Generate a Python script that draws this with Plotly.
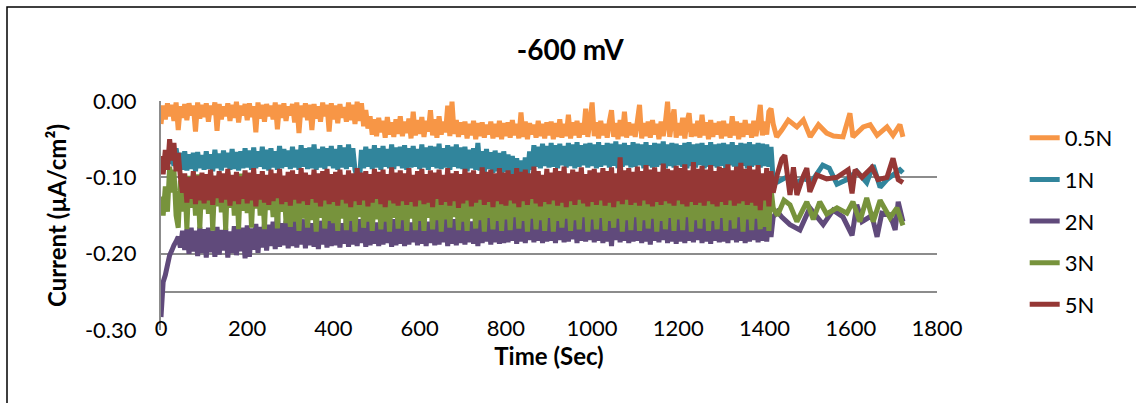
import plotly.graph_objects as go

# Potentiostatic hold at -600 mV: current density vs time for five NaCl concentrations.
# Values are in nA/cm² and are converted to µA/cm² when plotted.
# The first 1420 s were logged every SAMPLE_INTERVAL_S seconds; later points carry their own times.
SAMPLE_INTERVAL_S = 5

i_05N = [
    -30, -6, -24, -3, -20, -5, -26, -2, -38, -7, -22, -4, -25, -3, -19, -6, -40, -2, -23, -5,
    -21, -3, -27, -6, -18, -2, -39, -4, -24, -7, -20, -3, -26, -5, -22, -1, -28, -6, -19, -4,
    -25, -3, -21, -7, -41, -2, -23, -5, -27, -4, -20, -6, -24, -2, -37, -5, -22, -3, -26, -7,
    -19, -4, -28, -2, -42, -6, -21, -3, -25, -5, -38, -4, -23, -7, -27, -2, -20, -5, -40, -3,
    -24, -6, -29, -4, -22, -8, -27, -2, -25, -5, -30, -1, -26, -3, -33, -12, -36, -20, -44, -24,
    -46, -22, -41, -26, -48, -21, -44, -28, -47, -24, -43, -20, -46, -27, -42, -23, -49, -14, -45, -25,
    -43, -21, -47, -26, -40, -12, -45, -24, -48, -20, -44, -27, -41, -6, -46, -1, -43, -25, -47, -28,
    -44, -27, -49, -30, -45, -26, -50, -29, -46, -28, -48, -31, -44, -27, -49, -30, -47, -26, -50, -29,
    -46, -28, -48, -25, -45, -30, -49, -15, -47, -27, -50, -29, -44, -31, -48, -26, -46, -30, -49, -28,
    -45, -27, -50, -29, -47, -24, -48, -30, -46, -18, -49, -28, -45, -26, -48, -29, -44, -10, -47, -27,
    -2, -46, -28, -49, -26, -45, -30, -48, -27, -12, -47, -29, -50, -25, -46, -14, -48, -28, -45, -30,
    -47, -26, -5, -49, -29, -46, -27, -48, -25, -44, -30, -50, -27, -46, -28, -1, -47, -26, -11, -48,
    -29, -45, -22, -49, -27, -16, -47, -30, -46, -26, -48, -18, -45, -28, -50, -25, -47, -29, -44, -27,
    -49, -26, -46, -30, -48, -20, -45, -27, -50, -29, -47, -25, -44, -30, -48, -26, -46, -28, -5, -45,
    -27, -44, -14, -10, -30,
]
t_05N_late = [1428, 1440, 1455, 1475, 1490, 1506, 1525, 1544, 1560, 1582, 1598, 1605,
              1629, 1645, 1661, 1684, 1698, 1714, 1721]
i_05N_late = [-47, -38, -25, -34, -25, -47, -31, -42, -46, -47, -16, -47,
              -34, -31, -45, -34, -45, -31, -47]

i_1N = [
    -84, -74, -88, -70, -82, -66, -85, -62, -80, -68, -90, -66, -91, -70, -89, -68, -92, -67, -88, -71,
    -90, -66, -89, -70, -92, -64, -88, -69, -91, -65, -87, -68, -90, -63, -89, -67, -91, -66, -88, -62,
    -87, -65, -90, -61, -88, -66, -86, -60, -89, -64, -91, -62, -87, -66, -90, -59, -88, -63, -86, -65,
    -89, -60, -87, -64, -90, -58, -86, -62, -89, -61, -88, -57, -90, -63, -87, -60, -89, -62, -85, -59,
    -88, -63, -90, -58, -87, -61, -89, -57, -86, -62, -90, -100, -108, -64, -88, -60, -86, -63, -89, -58,
    -87, -62, -90, -59, -86, -63, -88, -57, -89, -61, -85, -60, -88, -58, -90, -62, -87, -59, -86, -63,
    -89, -57, -87, -61, -90, -59, -86, -60, -88, -56, -89, -62, -87, -58, -90, -60, -86, -57, -88, -61,
    -89, -60, -92, -64, -88, -62, -90, -55, -91, -66, -93, -63, -89, -67, -94, -65, -92, -68, -95, -66,
    -93, -70, -96, -72, -98, -75, -100, -78, -102, -74, -99, -66, -90, -58, -86, -60, -88, -56, -85, -59,
    -87, -55, -86, -58, -88, -56, -84, -59, -87, -55, -85, -57, -88, -54, -86, -58, -84, -56, -87, -55,
    -85, -57, -88, -54, -86, -58, -84, -55, -87, -56, -85, -53, -88, -57, -86, -55, -84, -58, -87, -54,
    -86, -56, -84, -57, -88, -54, -85, -58, -87, -55, -86, -56, -84, -53, -88, -57, -85, -55, -87, -56,
    -84, -58, -86, -55, -88, -54, -85, -57, -87, -56, -84, -55, -88, -58, -86, -54, -85, -57, -87, -56,
    -85, -55, -88, -57, -84, -54, -86, -58, -87, -55, -85, -56, -88, -54, -86, -57, -84, -55, -87, -56,
    -85, -57, -86, -60, -104,
]
t_1N_late = [1430, 1450, 1470, 1490, 1510, 1535, 1550, 1568, 1591, 1614, 1637, 1652,
             1668, 1684, 1700, 1714, 1721]
i_1N_late = [-106, -100, -108, -102, -105, -84, -88, -109, -103, -92, -107, -84,
             -113, -103, -96, -90, -94]

i_2N = [
    -283, -237, -228, -215, -202, -196, -189, -184, -178, -192, -170, -195, -168, -200, -166, -197, -170, -203, -165, -199,
    -168, -205, -166, -198, -170, -204, -165, -201, -169, -196, -167, -205, -171, -199, -164, -202, -168, -197, -166, -206,
    -163, -204, -167, -195, -161, -199, -165, -192, -160, -196, -162, -190, -158, -194, -147, -191, -160, -189, -157, -193,
    -159, -190, -156, -192, -161, -188, -155, -193, -158, -189, -160, -191, -154, -194, -157, -188, -159, -192, -155, -190,
    -158, -189, -156, -192, -160, -187, -154, -191, -157, -188, -159, -190, -155, -186, -158, -191, -153, -189, -157, -187,
    -159, -190, -154, -188, -157, -186, -160, -191, -155, -189, -158, -187, -153, -190, -156, -188, -159, -185, -154, -189,
    -157, -187, -155, -190, -158, -186, -153, -189, -156, -188, -159, -185, -154, -190, -157, -187, -155, -189, -152, -186,
    -156, -188, -154, -185, -158, -187, -152, -190, -155, -186, -157, -184, -153, -188, -156, -185, -151, -187, -154, -186,
    -152, -185, -155, -183, -150, -187, -153, -184, -151, -186, -154, -182, -149, -185, -152, -183, -150, -186, -153, -184,
    -150, -183, -152, -186, -149, -182, -153, -185, -148, -184, -151, -181, -150, -186, -147, -183, -152, -184, -149, -182,
    -151, -185, -148, -183, -150, -186, -147, -184, -152, -190, -149, -182, -151, -185, -148, -183, -150, -186, -147, -184,
    -149, -183, -151, -186, -148, -184, -150, -188, -147, -183, -152, -185, -149, -182, -146, -186, -150, -184, -148, -187,
    -150, -184, -147, -186, -149, -183, -151, -185, -146, -182, -150, -186, -148, -184, -145, -187, -149, -183, -151, -185,
    -147, -184, -149, -186, -146, -182, -150, -185, -148, -183, -145, -186, -149, -184, -147, -182, -150, -185, -146, -183,
    -148, -184, -150, -178, -152,
]
t_2N_late = [1430, 1440, 1459, 1482, 1505, 1536, 1559, 1582, 1603, 1614, 1626, 1649,
             1661, 1672, 1691, 1703, 1710, 1721]
i_2N_late = [-145, -152, -162, -169, -140, -162, -143, -152, -176, -136, -158, -150,
             -178, -147, -149, -169, -132, -158]

i_3N = [
    -125, -150, -112, -145, -86, -120, -90, -150, -166, -104, -145, -100, -168, -98, -140, -102, -150, -96, -167, -100,
    -142, -97, -148, -94, -170, -101, -138, -96, -146, -99, -169, -93, -140, -100, -150, -97, -168, -95, -144, -102,
    -147, -98, -166, -104, -141, -97, -150, -108, -168, -100, -143, -110, -152, -105, -167, -112, -145, -108, -160, -115,
    -165, -118, -158, -121, -170, -117, -154, -123, -166, -119, -156, -120, -171, -124, -153, -118, -167, -122, -157, -119,
    -160, -123, -170, -118, -154, -121, -169, -125, -157, -119, -171, -122, -152, -117, -166, -124, -158, -120, -170, -123,
    -155, -119, -168, -124, -158, -118, -171, -122, -153, -120, -167, -125, -156, -119, -170, -121, -154, -123, -169, -118,
    -157, -122, -170, -119, -153, -124, -168, -120, -156, -117, -171, -123, -155, -121, -166, -118, -152, -125, -169, -120,
    -158, -122, -170, -119, -154, -124, -167, -118, -156, -123, -171, -120, -153, -125, -168, -119, -157, -122, -170, -121,
    -155, -118, -169, -123, -152, -120, -167, -124, -157, -119, -171, -122, -154, -117, -168, -125, -156, -120, -170, -123,
    -153, -119, -171, -124, -157, -118, -166, -122, -154, -120, -170, -125, -156, -119, -168, -123, -152, -117, -171, -121,
    -155, -124, -168, -118, -153, -122, -170, -119, -157, -125, -166, -120, -154, -117, -171, -123, -156, -116, -169, -121,
    -152, -118, -170, -123, -156, -115, -167, -120, -154, -117, -171, -122, -157, -114, -168, -119, -153, -121, -170, -116,
    -155, -120, -169, -113, -152, -118, -171, -121, -156, -115, -167, -119, -154, -112, -170, -117, -157, -120, -168, -114,
    -153, -118, -170, -113, -156, -120, -167, -116, -152, -112, -171, -119, -155, -114, -169, -117, -154, -121, -168, -113,
    -165, -118, -170, -115, -140,
]
t_3N_late = [1430, 1445, 1459, 1475, 1498, 1513, 1528, 1544, 1568, 1591, 1605, 1621,
             1637, 1652, 1668, 1691, 1707, 1721]
i_3N_late = [-150, -130, -136, -158, -132, -155, -132, -148, -140, -147, -132, -158,
             -127, -158, -130, -153, -140, -163]

i_5N = [
    -72, -96, -64, -90, -50, -78, -55, -92, -68, -100, -120, -95, -133, -100, -128, -92, -135, -98, -130, -94,
    -134, -96, -130, -90, -136, -98, -127, -92, -133, -95, -129, -89, -137, -97, -131, -93, -135, -99, -128, -91,
    -134, -94, -130, -88, -138, -96, -129, -92, -133, -97, -136, -90, -131, -95, -127, -89, -135, -98, -132, -93,
    -137, -91, -129, -96, -134, -88, -131, -94, -136, -97, -128, -90, -133, -95, -138, -92, -130, -89, -135, -96,
    -132, -93, -137, -90, -129, -97, -134, -91, -139, -95, -131, -88, -136, -94, -130, -92, -138, -96, -133, -89,
    -128, -93, -135, -90, -139, -96, -130, -87, -134, -94, -137, -91, -131, -95, -136, -88, -132, -97, -138, -92,
    -130, -89, -135, -96, -133, -91, -139, -94, -128, -90, -136, -97, -132, -88, -137, -95, -131, -92, -140, -96,
    -134, -89, -130, -94, -138, -91, -133, -96, -129, -87, -136, -93, -132, -90, -139, -95, -131, -88, -135, -94,
    -137, -91, -130, -96, -134, -88, -139, -93, -131, -90, -136, -95, -128, -86, -134, -92, -138, -97, -132, -89,
    -135, -94, -130, -88, -137, -92, -133, -86, -139, -95, -131, -90, -136, -93, -129, -87, -134, -96, -138, -91,
    -132, -89, -136, -94, -130, -88, -137, -92, -133, -87, -139, -95, -131, -74, -135, -91, -129, -88, -136, -93,
    -133, -86, -137, -92, -130, -84, -135, -90, -138, -87, -132, -93, -136, -82, -131, -89, -134, -91, -137, -85,
    -130, -88, -135, -83, -138, -91, -132, -80, -136, -89, -133, -85, -137, -90, -131, -84, -135, -92, -138, -86,
    -132, -88, -136, -83, -130, -91, -137, -86, -134, -81, -131, -89, -136, -85, -133, -90, -137, -84, -143, -95,
    -130, -88, -138, -92, -120,
]
t_5N_late = [1430, 1440, 1447, 1459, 1467, 1475, 1490, 1498, 1505, 1521, 1544, 1568,
             1594, 1603, 1610, 1626, 1649, 1663, 1684, 1698, 1710, 1721]
i_5N_late = [-95, -76, -71, -123, -87, -123, -98, -88, -119, -97, -102, -100,
             -90, -121, -90, -100, -87, -103, -100, -75, -103, -107]

series = [
    ("0.5N", i_05N, t_05N_late, i_05N_late),
    ("1N", i_1N, t_1N_late, i_1N_late),
    ("2N", i_2N, t_2N_late, i_2N_late),
    ("3N", i_3N, t_3N_late, i_3N_late),
    ("5N", i_5N, t_5N_late, i_5N_late),
]
colors = {"0.5N": "#F79646", "1N": "#31859C", "2N": "#604A7B", "3N": "#77933C", "5N": "#953735"}

x_ticks = [0, 200, 400, 600, 800, 1000, 1200, 1400, 1600, 1800]
y_ticks = [0.0, -0.10, -0.20, -0.25, -0.30]
y_tick_text = ["0.00", "-0.10", "-0.20", "", "-0.30"]

FONT = "Lato"
GRID = "#8C8C8C"

fig = go.Figure()
for name, dense, t_late, i_late in series:
    t = [k * SAMPLE_INTERVAL_S for k in range(len(dense))] + t_late
    current_uA = [v / 1000 for v in dense + i_late]
    fig.add_trace(go.Scatter(
        x=t, y=current_uA, mode="lines", name=name, legendgroup=name,
        line=dict(color=colors[name], width=5, simplify=False),
    ))

fig.update_layout(
    width=1136, height=403,
    margin=dict(l=161, r=199, t=101, b=73),
    paper_bgcolor="white", plot_bgcolor="white",
    font=dict(family=FONT, size=22, color="black"),
    title=dict(text="-600 mV", x=0.502, xref="container", y=1 - 50 / 403, yref="container",
               xanchor="center", yanchor="middle",
               font=dict(family=FONT, size=28, weight="bold", color="black")),
    legend=dict(x=1.113, xanchor="left", y=0.93, yanchor="top",
                font=dict(family=FONT, size=22, color="black"),
                tracegroupgap=10, bgcolor="rgba(0,0,0,0)"),
    showlegend=True,
)

fig.update_xaxes(
    range=[0, 1800], tickvals=x_ticks, showgrid=False, zeroline=False, showline=False,
    ticks="", ticklabelstandoff=-17,
    tickfont=dict(family=FONT, size=22, color="black"),
    title=dict(text="Time (Sec)", font=dict(family=FONT, size=24, weight="bold", color="black"),
               standoff=4),
)
fig.update_yaxes(
    range=[-0.30, 0.0], tickvals=y_ticks, ticktext=y_tick_text,
    showgrid=True, gridcolor=GRID, gridwidth=2, zeroline=False,
    showline=True, linecolor=GRID, linewidth=2, ticks="", ticklabelstandoff=18,
    tickfont=dict(family=FONT, size=22, color="black"),
    title=dict(text="Current (µA/cm²)", font=dict(family=FONT, size=24, weight="bold", color="black"),
               standoff=12),
)

# Outer chart frame (runs past the right and bottom edges of the page)
fig.add_shape(type="rect", xref="paper", yref="paper",
              x0=(7 - 161) / 776, x1=1.6, y0=-0.6, y1=(330 - 7) / 229,
              line=dict(color="black", width=1.5), fillcolor="rgba(0,0,0,0)", layer="below")

fig.write_html("out.html")
